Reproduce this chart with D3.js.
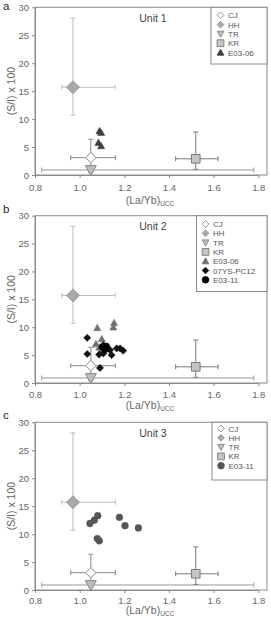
<!DOCTYPE html>
<html>
<head>
<meta charset="utf-8">
<script src="https://cdn.jsdelivr.net/npm/d3@7"></script>
<style>
  html, body { margin: 0; padding: 0; background: #fff; }
  svg { display: block; font-family: "Liberation Sans", Arial, sans-serif; }
</style>
</head>
<body>
<div id="chart"></div>
<script>
// axis ticks
const xTicks = [0.8, 1.0, 1.2, 1.4, 1.6, 1.8];
const yTicks = [0, 5, 10, 15, 20, 25, 30];

// reference source fields (same in every panel)
const refNames = ["CJ", "HH", "TR", "KR"];
const refX    = [1.05, 0.97, 1.05, 1.52];
const refY    = [3.1, 15.7, 0.9, 2.9];
const refXLo  = [0.96, 0.92, 0.83, 1.43];
const refXHi  = [1.16, 1.16, 1.78, 1.62];
const refYLo  = [1.5, 10.7, 0.5, 1.0];
const refYHi  = [6.4, 28.1, 1.6, 7.7];

// unit 1 samples
const u1E0306X = [1.089, 1.096, 1.084, 1.096];
const u1E0306Y = [7.9, 7.6, 5.8, 5.2];

// unit 2 samples
const u2E0306X = [1.079, 1.154, 1.151, 1.099, 1.073, 1.088, 1.099];
const u2E0306Y = [9.9, 10.8, 10.0, 7.9, 7.0, 6.4, 5.9];
const u2PC12X = [1.034, 1.034, 1.091, 1.087, 1.106, 1.121, 1.136, 1.143, 1.166, 1.181, 1.195, 1.106];
const u2PC12Y = [8.1, 5.2, 2.7, 5.1, 6.8, 6.5, 5.9, 5.0, 6.2, 6.2, 5.8, 5.3];
const u2E0311X = [1.10, 1.115, 1.12];
const u2E0311Y = [6.4, 6.0, 6.6];

// unit 3 samples
const u3E0311X = [1.081, 1.066, 1.046, 1.178, 1.203, 1.263, 1.079, 1.088];
const u3E0311Y = [13.3, 12.5, 11.9, 13.0, 11.5, 11.1, 9.2, 8.8];

const W = 271, H = 619;
const left = 35, right = 267;

const refStyle = [
  { shape: "diamond", size: 5.2, fill: "#fff", stroke: "#8a8a8a", bar: "#8a8a8a" },
  { shape: "diamond", size: 6.5, fill: "#a9a9a9", stroke: "#999", bar: "#bdbdbd" },
  { shape: "triDown", size: 5.5, fill: "#bcbcbc", stroke: "#888", bar: "#9a9a9a" },
  { shape: "square", size: 4.3, fill: "#c4c4c4", stroke: "#7a7a7a", bar: "#7a7a7a" }
];

const panels = [
  { letter: "a", title: "Unit 1", top: 7.3, bottom: 175, tickDy: 12.5, titleY: 204, letterY: 10,
    legendBox: [211, 7.3, 267, 64], legendY0: 15.3, legendX: 220.5,
    series: [{ name: "E03-06", shape: "triUp", size: 3.6, fill: "#3e3e3e", x: u1E0306X, y: u1E0306Y }] },
  { letter: "b", title: "Unit 2", top: 215.7, bottom: 383, tickDy: 11.5, titleY: 409, letterY: 213,
    legendBox: [196.5, 215.7, 267, 291.5], legendY0: 224, legendX: 205.5,
    series: [
      { name: "E03-06", shape: "triUp", size: 3.6, fill: "#707070", x: u2E0306X, y: u2E0306Y },
      { name: "07YS-PC12", shape: "diamond", size: 3.6, fill: "#111", x: u2PC12X, y: u2PC12Y },
      { name: "E03-11", shape: "circle", size: 3.1, fill: "#000", x: u2E0311X, y: u2E0311Y }
    ] },
  { letter: "c", title: "Unit 3", top: 422.3, bottom: 590, tickDy: 10.5, titleY: 614, letterY: 419,
    legendBox: [212, 422.3, 267, 480], legendY0: 428.5, legendX: 221,
    series: [{ name: "E03-11", shape: "circle", size: 3.4, fill: "#555", x: u3E0311X, y: u3E0311Y }] }
];

function shapePath(shape, r) {
  if (shape === "diamond") return `M0,${-r}L${r},0L0,${r}L${-r},0Z`;
  if (shape === "square") return `M${-r},${-r}H${r}V${r}H${-r}Z`;
  if (shape === "triUp") return `M0,${-r}L${r},${r * 0.8}L${-r},${r * 0.8}Z`;
  if (shape === "triDown") return `M0,${r}L${r},${-r * 0.8}L${-r},${-r * 0.8}Z`;
  return d3.arc()({ innerRadius: 0, outerRadius: r, startAngle: 0, endAngle: 2 * Math.PI });
}

const svg = d3.select("#chart").append("svg")
  .attr("width", W).attr("height", H);

// x scale: tick 0.8 at 35px, 1.8 at 258.3px
const xScale = d3.scaleLinear().domain([0.8, 1.8]).range([left, 258.3]);

panels.forEach(p => {
  const yScale = d3.scaleLinear().domain([0, 30]).range([p.bottom, p.top]);
  const g = svg.append("g");

  // frame
  g.append("rect")
    .attr("x", left).attr("y", p.top)
    .attr("width", right - left).attr("height", p.bottom - p.top)
    .attr("fill", "none").attr("stroke", "#8c8c8c").attr("stroke-width", 1);

  // axes
  const xAxis = g.append("g")
    .attr("transform", `translate(0,${p.bottom})`)
    .call(d3.axisBottom(xScale).tickValues(xTicks).tickFormat(d3.format(".1f")).tickSize(3).tickSizeOuter(0));
  const yAxis = g.append("g")
    .attr("transform", `translate(${left},0)`)
    .call(d3.axisLeft(yScale).tickValues(yTicks).tickSize(3).tickSizeOuter(0));
  [xAxis, yAxis].forEach(ax => {
    ax.select(".domain").attr("stroke", "#8c8c8c");
    ax.selectAll(".tick line").attr("stroke", "#8c8c8c");
    ax.selectAll(".tick text").attr("fill", "#666").attr("font-size", 9.5)
      .attr("font-family", "Liberation Sans, Arial, sans-serif");
  });
  xAxis.selectAll(".tick text").attr("y", p.tickDy).attr("dy", "0.35em");

  // axis titles
  const xt = g.append("text")
    .attr("x", 150).attr("y", p.titleY)
    .attr("text-anchor", "middle").attr("fill", "#666").attr("font-size", 10.5);
  xt.append("tspan").text("(La/Yb)");
  xt.append("tspan").attr("font-size", 6.5).attr("dy", 2).text("UCC");

  g.append("text")
    .attr("transform", `translate(15,${(p.top + p.bottom) / 2}) rotate(-90)`)
    .attr("text-anchor", "middle").attr("fill", "#666").attr("font-size", 10.5)
    .text("(S/I) x 100");

  // panel letter and title
  g.append("text")
    .attr("x", 3).attr("y", p.letterY)
    .attr("fill", "#222").attr("font-size", 11.5).text(p.letter);
  g.append("text")
    .attr("x", 153).attr("y", p.top + 14.5)
    .attr("text-anchor", "middle").attr("fill", "#444").attr("font-size", 10.5)
    .text(p.title);

  // error bars of reference fields
  refNames.forEach((n, i) => {
    const st = refStyle[i];
    const eg = g.append("g").attr("stroke", st.bar).attr("stroke-width", 1).attr("fill", "none");
    const cx = xScale(refX[i]), cy = yScale(refY[i]);
    const x0 = xScale(refXLo[i]), x1 = xScale(refXHi[i]);
    const y0 = yScale(refYLo[i]), y1 = yScale(refYHi[i]);
    eg.append("line").attr("x1", x0).attr("x2", x1).attr("y1", cy).attr("y2", cy);
    eg.append("line").attr("x1", x0).attr("x2", x0).attr("y1", cy - 2.5).attr("y2", cy + 2.5);
    eg.append("line").attr("x1", x1).attr("x2", x1).attr("y1", cy - 2.5).attr("y2", cy + 2.5);
    eg.append("line").attr("x1", cx).attr("x2", cx).attr("y1", y0).attr("y2", y1);
    eg.append("line").attr("x1", cx - 2.5).attr("x2", cx + 2.5).attr("y1", y0).attr("y2", y0);
    eg.append("line").attr("x1", cx - 2.5).attr("x2", cx + 2.5).attr("y1", y1).attr("y2", y1);
  });

  // sample series
  p.series.forEach(s => {
    g.append("g").selectAll("path")
      .data(s.x.map((x, i) => [x, s.y[i]]))
      .join("path")
      .attr("transform", d => `translate(${xScale(d[0])},${yScale(d[1])})`)
      .attr("d", shapePath(s.shape, s.size))
      .attr("fill", s.fill).attr("stroke", s.fill).attr("stroke-width", 0.5);
  });

  // reference markers on top
  refNames.forEach((n, i) => {
    const st = refStyle[i];
    g.append("path")
      .attr("transform", `translate(${xScale(refX[i])},${yScale(refY[i])})`)
      .attr("d", shapePath(st.shape, st.size))
      .attr("fill", st.fill).attr("stroke", st.stroke).attr("stroke-width", 1);
  });

  // legend
  const lb = p.legendBox;
  g.append("rect")
    .attr("x", lb[0]).attr("y", lb[1]).attr("width", lb[2] - lb[0]).attr("height", lb[3] - lb[1])
    .attr("fill", "#fff").attr("stroke", "#8c8c8c").attr("stroke-width", 1);
  const items = refNames.map((n, i) => ({ name: n, shape: refStyle[i].shape, size: 3.4,
      fill: refStyle[i].fill, stroke: refStyle[i].stroke }))
    .concat(p.series.map(s => ({ name: s.name, shape: s.shape, size: 3.3, fill: s.fill, stroke: s.fill })));
  const step = 9.3;
  const li = g.append("g").selectAll("g").data(items).join("g")
    .attr("transform", (d, i) => `translate(${p.legendX},${p.legendY0 + i * step})`);
  li.append("path")
    .attr("d", d => shapePath(d.shape, d.size))
    .attr("fill", d => d.fill).attr("stroke", d => d.stroke).attr("stroke-width", 0.9);
  li.append("text")
    .attr("x", 7.5).attr("y", 3)
    .attr("fill", "#555").attr("font-size", 8)
    .text(d => d.name);
});
</script>
</body>
</html>
